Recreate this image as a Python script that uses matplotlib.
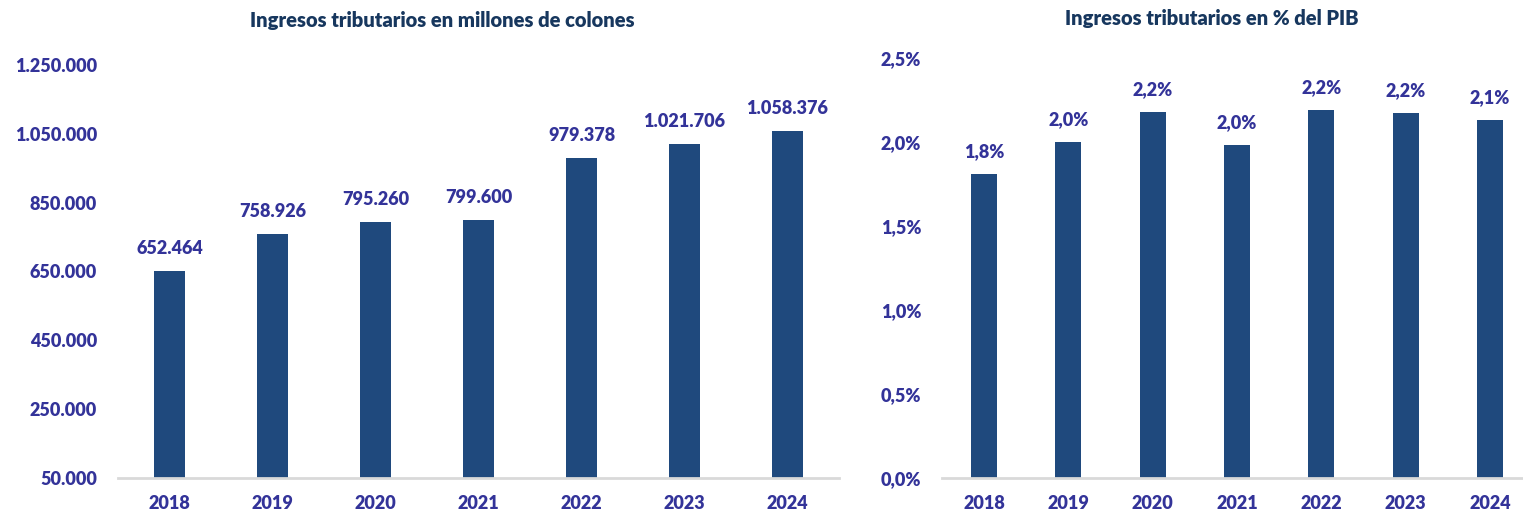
import matplotlib
matplotlib.use("Agg")
import matplotlib.pyplot as plt
from matplotlib.ticker import FuncFormatter

years = ["2018", "2019", "2020", "2021", "2022", "2023", "2024"]
ingresos = [652464, 758926, 795260, 799600, 979378, 1021706, 1058376]
pct_pib = [1.81, 2.00, 2.18, 1.98, 2.19, 2.17, 2.13]
pct_labels = ["1,8%", "2,0%", "2,2%", "2,0%", "2,2%", "2,2%", "2,1%"]

bar_color = "#1F497D"
text_color = "#333399"
title_color = "#17375E"
axis_color = "#D9D9D9"

plt.rcParams['font.family'] = ['Lato', 'DejaVu Sans']
plt.rcParams['font.weight'] = 'heavy'

W, H = 1523, 514
fig = plt.figure(figsize=(W / 100, H / 100), dpi=100)

def box(x0, x1, y0, y1):
    # pixel coords (top-left origin) -> figure fraction
    return [x0 / W, 1 - y1 / H, (x1 - x0) / W, (y1 - y0) / H]

def miles(v):
    return f"{int(round(v)):,}".replace(",", ".")

def style(ax):
    for s in ["top", "right", "left"]:
        ax.spines[s].set_visible(False)
    ax.spines["bottom"].set_color(axis_color)
    ax.spines["bottom"].set_linewidth(2)
    ax.tick_params(axis="both", length=0, labelsize=13, labelcolor=text_color)
    ax.tick_params(axis="y", pad=15)
    ax.tick_params(axis="x", pad=12.5)
    ax.set_xlim(-0.5, 6.5)

# left chart
ax1 = fig.add_axes(box(118, 839, 65, 478))
x = range(len(years))
ax1.bar(x, ingresos, width=0.31, color=bar_color, bottom=0)
ax1.set_ylim(50000, 1250000)
ax1.set_yticks(range(50000, 1250001, 200000))
ax1.yaxis.set_major_formatter(FuncFormatter(lambda v, p: miles(v)))
ax1.set_xticks(list(x))
ax1.set_xticklabels(years)
style(ax1)
for i, v in enumerate(ingresos):
    ax1.annotate(miles(v), (i, v), xytext=(0, 10), textcoords="offset points",
                 ha="center", va="bottom", fontsize=13, color=text_color)
fig.text(442 / W, 1 - 21 / H, "Ingresos tributarios en millones de colones",
         ha="center", va="center", fontsize=14.5, color=title_color)

# right chart
ax2 = fig.add_axes(box(942, 1532, 58, 478))
ax2.bar(x, pct_pib, width=0.31, color=bar_color)
ax2.set_ylim(0, 2.5)
ax2.set_yticks([0, 0.5, 1.0, 1.5, 2.0, 2.5])
ax2.yaxis.set_major_formatter(FuncFormatter(lambda v, p: f"{v:.1f}%".replace(".", ",")))
ax2.set_xticks(list(x))
ax2.set_xticklabels(years)
style(ax2)
for i, v in enumerate(pct_pib):
    ax2.annotate(pct_labels[i], (i, v), xytext=(0, 10), textcoords="offset points",
                 ha="center", va="bottom", fontsize=13, color=text_color)
fig.text(1212 / W, 1 - 18 / H, "Ingresos tributarios en % del PIB",
         ha="center", va="center", fontsize=14.5, color=title_color)

fig.savefig("out.png", dpi=100)
